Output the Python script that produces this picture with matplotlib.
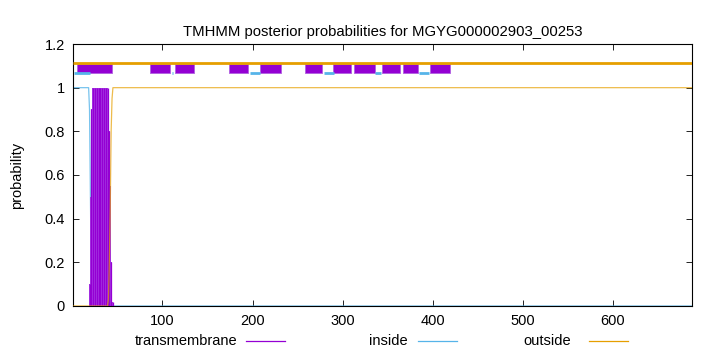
import matplotlib
matplotlib.use('Agg')
import matplotlib.pyplot as plt
from matplotlib.lines import Line2D

plt.rcParams['font.family'] = ['Liberation Sans', 'DejaVu Sans']
plt.rcParams['font.size'] = 10.5

# colours (gnuplot default palette)
C_TM = '#9400d3'
C_IN = '#56b4e9'
C_OUT = '#e69f00'

seq_len = 688

# posterior probabilities
tm_x = list(range(17, 47))
tm_y = [0, 0, 0.1, 0.5, 0.9,
        1, 1, 1, 1, 1, 1, 1, 1, 1, 1, 1, 1, 1, 1, 1, 1, 1, 1,
        0.97, 0.8, 0.55, 0.2, 0.05, 0.02, 0]

inside_x = [1, 18, 19, 20, 21, 22, seq_len]
inside_y = [1, 1, 0.9, 0.5, 0.1, 0, 0]

outside_x = [1, 39, 40, 41, 42, 43, 44, 45, seq_len]
outside_y = [0, 0, 0.03, 0.2, 0.45, 0.8, 0.95, 1, 1]

# predicted topology bars at the top
tm_segments = [(5, 44), (86, 108), (114, 135), (174, 195), (208, 231),
               (258, 277), (289, 309), (313, 336), (344, 364), (367, 384),
               (397, 419)]
inside_segments = [(2, 19), (110, 112), (197, 208), (279, 290), (336, 343),
                   (385, 396)]

fig = plt.figure(figsize=(7.2, 3.52), dpi=100)
ax = fig.add_axes([0.1018, 0.1307, 0.8597, 0.7443])

# impulses for transmembrane
ax.bar(tm_x, tm_y, width=1.0, color='#a535e3', lw=0, zorder=2.5)
ax.vlines(tm_x[::2], 0, tm_y[::2], color=C_TM, lw=0.9, zorder=3)
ax.plot(inside_x, inside_y, color=C_IN, lw=0.9, alpha=0.8, zorder=2)
ax.plot(outside_x, outside_y, color=C_OUT, lw=0.9, alpha=0.7, zorder=4)

# topology bars
ax.broken_barh([(a, b - a) for a, b in tm_segments], (1.066, 0.042),
               facecolor=C_TM, edgecolor='#b060e0', lw=0.6, zorder=4)
for a, b in inside_segments:
    ax.plot([a, b], [1.068, 1.068], color=C_IN, lw=2, solid_capstyle='butt', zorder=4)
ax.plot([1, seq_len], [1.111, 1.111], color=C_OUT, lw=2, solid_capstyle='butt', zorder=5)

ax.set_xlim(1, seq_len)
ax.set_ylim(0, 1.2)
ax.set_xticks([100, 200, 300, 400, 500, 600])
ax.set_yticks([0, 0.2, 0.4, 0.6, 0.8, 1, 1.2])
ax.set_yticklabels(['0', '0.2', '0.4', '0.6', '0.8', '1', '1.2'])
ax.tick_params(direction='in', length=4, width=0.6, top=True, right=True, pad=6)
for s in ax.spines.values():
    s.set_linewidth(0.8)

ax.set_ylabel('probability', labelpad=15)
ax.set_title('TMHMM posterior probabilities for MGYG000002903_00253',
             fontsize=10.7, pad=6)

# legend below the axes
ly = 1 - 340.7 / 352
for label, tx, x0, x1, c in [('transmembrane', 237, 246, 285, C_TM),
                             ('inside', 408, 418, 457, C_IN),
                             ('outside', 571, 589, 628, C_OUT)]:
    fig.text(tx / 720, ly, label, ha='right', va='center')
    fig.add_artist(Line2D([x0 / 720, x1 / 720], [ly, ly], color=c, lw=0.9))

plt.savefig('out.png', dpi=100)
